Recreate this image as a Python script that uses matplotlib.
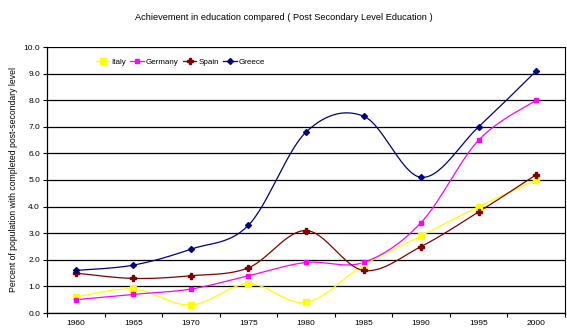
import numpy as np
import matplotlib.pyplot as plt

plt.rcParams['font.family'] = ['Liberation Sans', 'DejaVu Sans']

years = ['1960', '1965', '1970', '1975', '1980', '1985', '1990', '1995', '2000']
italy = [0.6, 0.9, 0.3, 1.1, 0.4, 1.8, 2.9, 4.0, 5.0]
germany = [0.5, 0.7, 0.9, 1.4, 1.9, 1.9, 3.4, 6.5, 8.0]
spain = [1.5, 1.3, 1.4, 1.7, 3.1, 1.6, 2.5, 3.8, 5.2]
greece = [1.6, 1.8, 2.4, 3.3, 6.8, 7.4, 5.1, 7.0, 9.1]


def smooth(xs, ys, n=30):
    # Excel-like smoothing: cubic bezier with control points from neighbours
    xs = np.asarray(xs, float)
    ys = np.asarray(ys, float)
    px = np.concatenate([[xs[0]], xs, [xs[-1]]])
    py = np.concatenate([[ys[0]], ys, [ys[-1]]])
    outx, outy = [], []
    t = np.linspace(0, 1, n)
    for i in range(1, len(px) - 2):
        p0 = np.array([px[i], py[i]])
        p3 = np.array([px[i + 1], py[i + 1]])
        c1 = p0 + (np.array([px[i + 1], py[i + 1]]) - np.array([px[i - 1], py[i - 1]])) / 6
        c2 = p3 - (np.array([px[i + 2], py[i + 2]]) - np.array([px[i], py[i]])) / 6
        b = ((1 - t) ** 3)[:, None] * p0 + (3 * (1 - t) ** 2 * t)[:, None] * c1 \
            + (3 * (1 - t) * t ** 2)[:, None] * c2 + (t ** 3)[:, None] * p3
        outx.extend(b[:, 0])
        outy.extend(b[:, 1])
    return outx, outy


fig = plt.figure(figsize=(5.67, 3.32), dpi=100)
ax = fig.add_axes([47 / 567, 1 - 313 / 332, 518 / 567, 266 / 332])

x = np.arange(len(years))
series = [
    ('Italy', italy, '#ffff00', 's', 4.5),
    ('Germany', germany, '#ff00ff', 's', 3.5),
    ('Spain', spain, '#800000', 'P', 4),
    ('Greece', greece, '#000080', 'D', 3),
]
for name, vals, col, mk, ms in series:
    sx, sy = smooth(x, vals)
    ax.plot(sx, sy, color=col, lw=0.9, zorder=3)
    ax.plot(x, vals, ls='none', marker=mk, color=col, ms=ms, zorder=4)
    ax.plot([], [], color=col, lw=0.9, marker=mk, ms=ms, label=name)

ax.set_xlim(-0.5, len(years) - 0.5)
ax.set_ylim(0, 10)
ax.set_yticks(np.arange(0, 11, 1))
ax.set_yticklabels([f'{v:.1f}' for v in np.arange(0, 11, 1)], fontsize=6)
ax.set_xticks(x)
ax.set_xticklabels(years, fontsize=6)
ax.set_xticks(np.arange(-0.5, len(years), 1), minor=True)
ax.tick_params(axis='x', which='major', length=0, pad=5)
ax.tick_params(axis='x', which='minor', length=3, width=0.8, direction='out')
ax.tick_params(axis='y', length=3, width=0.8, direction='out', pad=2)
ax.grid(axis='y', color='black', lw=0.9)
ax.set_axisbelow(True)
ax.spines['top'].set_visible(False)
ax.spines['right'].set_linewidth(0.8)
ax.spines['left'].set_linewidth(0.9)
ax.spines['bottom'].set_linewidth(0.9)

ax.set_ylabel('Percent of population with completed post-secondary level', fontsize=6.2, labelpad=4)
fig.text(0.5, 1 - 17 / 332, 'Achievement in education compared ( Post Secondary Level Education )',
         ha='center', va='center', fontsize=6.7)

ax.legend(loc='upper left', bbox_to_anchor=(0.08, 0.985), ncol=4, frameon=False,
          fontsize=5.8, handlelength=1.7, handletextpad=0.25, columnspacing=0.5)

fig.savefig('out.png', dpi=100)
